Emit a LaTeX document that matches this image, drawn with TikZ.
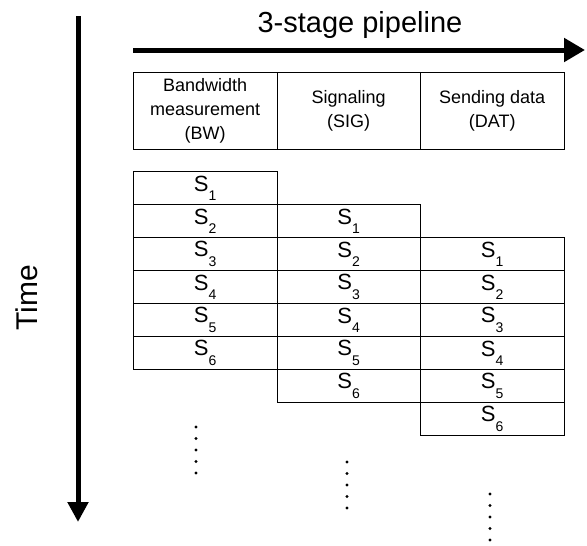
\documentclass[tikz,border=0pt]{standalone}
\usepackage{fontspec}
\setmainfont{Liberation Sans}
\usetikzlibrary{arrows.meta}
\newcommand{\stg}[1]{S\raisebox{-0.42em}{\fontsize{14}{14}\selectfont #1}}

\begin{document}
\begin{tikzpicture}[x=1pt, y=-1pt,
  cell/.style={draw, line width=0.9pt, minimum width=143.5pt, minimum height=33pt,
    inner sep=0pt, anchor=north west, font=\fontsize{22}{22}\selectfont},
  head/.style={cell, minimum height=77.3pt, align=center, font=\fontsize{18}{24}\selectfont},
  bigarrow/.style={line width=5pt, -{Triangle[width=23pt,length=21pt]}}]
\useasboundingbox (0,0) rectangle (587,546);

% axes
\node[anchor=base, font=\fontsize{29}{29}\selectfont] (title) at (360,32) {3-stage pipeline};
\coordinate (hs) at (133,50);
\coordinate (he) at (585,50);
\draw[bigarrow] (hs) -- (he);

\node[rotate=90, anchor=base, font=\fontsize{30}{30}\selectfont] (time) at (37,298) {Time};
\coordinate (vs) at (78,16);
\coordinate (ve) at (78,522);
\draw[bigarrow, -{Triangle[width=20pt,length=20pt]}] (vs) -- (ve);

% stages
\node[head] (bw) at (133,71.7) {Bandwidth\\measurement\\(BW)};
\node[head] (sig) at (276.5,71.7) {Signaling\\(SIG)};
\node[head] (dat) at (420,71.7) {Sending data\\(DAT)};

\foreach \name/\x/\first in {bw/133/0, sig/276.5/1, dat/420/2}
  \foreach \i in {1,...,6}
    \node[cell] (\name\i) at (\x,{171+(\first+\i-1)*33}) {\stg{\i}};

% more steps
\foreach \x/\y in {196/427, 347/462, 490/494}
  \foreach \k in {0,...,4}
    \fill (\x,{\y+11.5*\k}) circle (1.7);
\end{tikzpicture}
\end{document}
